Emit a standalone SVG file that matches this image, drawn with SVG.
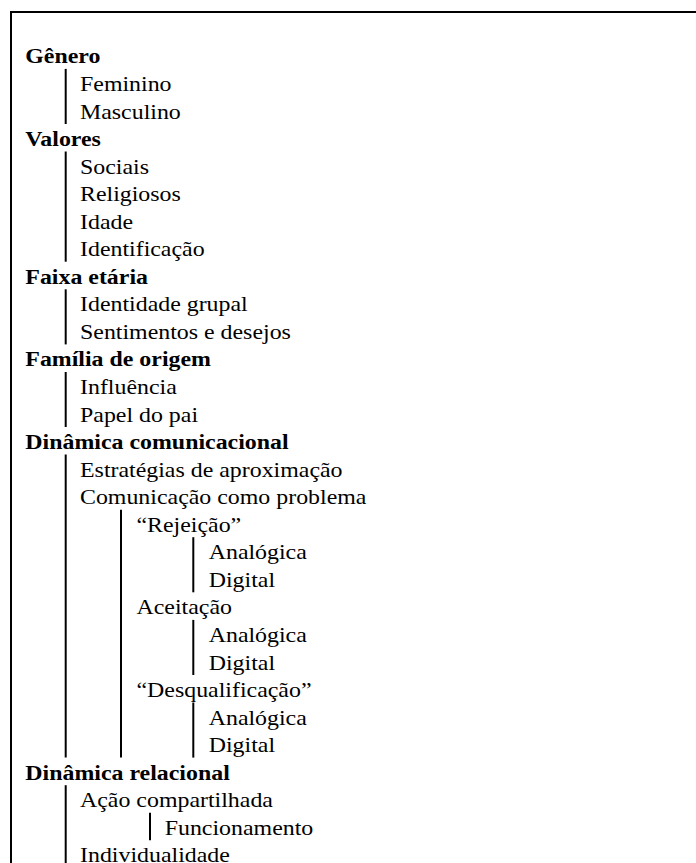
<svg xmlns="http://www.w3.org/2000/svg" width="696" height="863" viewBox="0 0 696 863">
<style>
text{font-family:"Liberation Serif","Times New Roman",serif;font-size:20.5px;fill:#000}
.h{font-weight:bold}
.c line{stroke:#000;stroke-width:2}
.frame{fill:none;stroke:#000;stroke-width:2}
</style>
<rect width="696" height="863" fill="#fff"/>
<path class="frame" d="M11,870 V12 H700"/>
<g id="connectors" class="c">
<line x1="65.7" y1="68.9" x2="65.7" y2="124"/>
<line x1="65.7" y1="151.5" x2="65.7" y2="261.7"/>
<line x1="65.7" y1="289.3" x2="65.7" y2="344.4"/>
<line x1="65.7" y1="372" x2="65.7" y2="427"/>
<line x1="65.7" y1="454.6" x2="65.7" y2="757.6"/>
<line x1="121" y1="509.7" x2="121" y2="757.6"/>
<line x1="193.3" y1="537.2" x2="193.3" y2="592.3"/>
<line x1="193.3" y1="619.9" x2="193.3" y2="675"/>
<line x1="193.3" y1="702.5" x2="193.3" y2="757.6"/>
<line x1="65.7" y1="785.2" x2="65.7" y2="870"/>
<line x1="150" y1="812.7" x2="150" y2="840.3"/>
</g>
<g id="genero"><text class="h" transform="translate(25.3,63.4) scale(1.165,1)">Gênero</text></g>
<g id="feminino"><text transform="translate(80,90.95) scale(1.165,1)">Feminino</text></g>
<g id="masculino"><text transform="translate(80,118.5) scale(1.165,1)">Masculino</text></g>
<g id="valores"><text class="h" transform="translate(25.3,146.05) scale(1.165,1)">Valores</text></g>
<g id="sociais"><text transform="translate(80,173.6) scale(1.165,1)">Sociais</text></g>
<g id="religiosos"><text transform="translate(80,201.15) scale(1.165,1)">Religiosos</text></g>
<g id="idade"><text transform="translate(80,228.7) scale(1.165,1)">Idade</text></g>
<g id="identificacao"><text transform="translate(80,256.25) scale(1.165,1)">Identificação</text></g>
<g id="faixa-etaria"><text class="h" transform="translate(25.3,283.8) scale(1.165,1)">Faixa etária</text></g>
<g id="identidade-grupal"><text transform="translate(80,311.35) scale(1.165,1)">Identidade grupal</text></g>
<g id="sentimentos"><text transform="translate(80,338.9) scale(1.165,1)">Sentimentos e desejos</text></g>
<g id="familia"><text class="h" transform="translate(25.3,366.45) scale(1.165,1)">Família de origem</text></g>
<g id="influencia"><text transform="translate(80,394) scale(1.165,1)">Influência</text></g>
<g id="papel-pai"><text transform="translate(80,421.55) scale(1.165,1)">Papel do pai</text></g>
<g id="dinamica-comunicacional"><text class="h" transform="translate(25.3,449.1) scale(1.165,1)">Dinâmica comunicacional</text></g>
<g id="estrategias"><text transform="translate(80,476.65) scale(1.165,1)">Estratégias de aproximação</text></g>
<g id="comunicacao-problema"><text transform="translate(80,504.2) scale(1.165,1)">Comunicação como problema</text></g>
<g id="rejeicao"><text transform="translate(136.5,531.75) scale(1.165,1)">“Rejeição”</text></g>
<g id="rejeicao-analogica"><text transform="translate(208.7,559.3) scale(1.165,1)">Analógica</text></g>
<g id="rejeicao-digital"><text transform="translate(208.7,586.85) scale(1.165,1)">Digital</text></g>
<g id="aceitacao"><text transform="translate(136.5,614.4) scale(1.165,1)">Aceitação</text></g>
<g id="aceitacao-analogica"><text transform="translate(208.7,641.95) scale(1.165,1)">Analógica</text></g>
<g id="aceitacao-digital"><text transform="translate(208.7,669.5) scale(1.165,1)">Digital</text></g>
<g id="desqualificacao"><text transform="translate(136.5,697.05) scale(1.165,1)">“Desqualificação”</text></g>
<g id="desqualificacao-analogica"><text transform="translate(208.7,724.6) scale(1.165,1)">Analógica</text></g>
<g id="desqualificacao-digital"><text transform="translate(208.7,752.15) scale(1.165,1)">Digital</text></g>
<g id="dinamica-relacional"><text class="h" transform="translate(25.3,779.7) scale(1.165,1)">Dinâmica relacional</text></g>
<g id="acao-compartilhada"><text transform="translate(80,807.25) scale(1.165,1)">Ação compartilhada</text></g>
<g id="funcionamento"><text transform="translate(164.7,834.8) scale(1.165,1)">Funcionamento</text></g>
<g id="individualidade"><text transform="translate(80,862) scale(1.165,1)">Individualidade</text></g>
</svg>
